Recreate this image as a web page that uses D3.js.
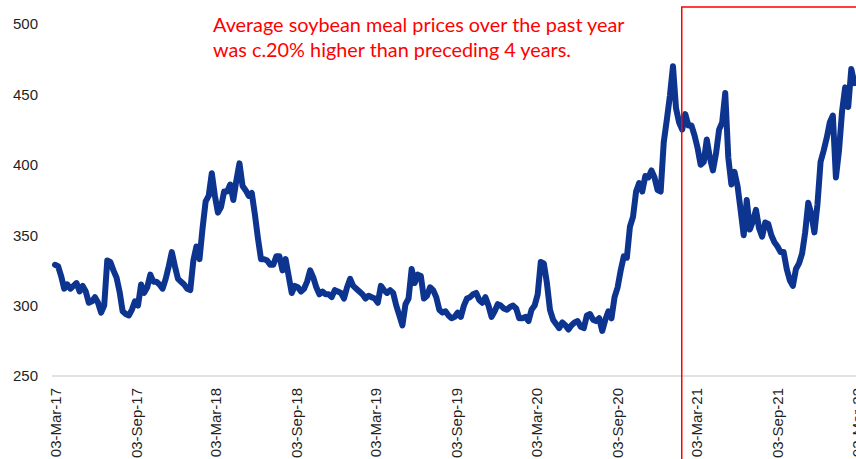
<!DOCTYPE html>
<html>
<head>
<meta charset="utf-8">
<script src="https://cdn.jsdelivr.net/npm/d3@7"></script>
<style>
  html, body { margin: 0; padding: 0; background: #ffffff; overflow: hidden; }
  svg { display: block; }
</style>
</head>
<body>
<svg id="chart" width="856" height="459"></svg>
<script>
// Weekly soybean meal prices, first observation 3 March 2017
const startDate = "2017-03-03";
const prices = [
  329, 328, 321, 312, 315, 312, 314, 316, 310, 314,
  310, 302, 303, 306, 302, 295, 300, 332, 331, 325,
  320, 310, 296, 294, 293, 297, 303, 300, 315, 309,
  313, 322, 317, 317, 315, 312, 319, 328, 338, 328,
  319, 317, 315, 312, 311, 332, 342, 333, 355, 374,
  378, 394, 378, 366, 370, 381, 381, 386, 375, 389,
  401, 385, 382, 378, 380, 365, 348, 333, 333, 332,
  329, 329, 335, 335, 325, 333, 321, 309, 314, 313,
  310, 312, 317, 325, 320, 313, 308, 310, 308, 308,
  306, 311, 310, 309, 305, 313, 319, 314, 312, 310,
  308, 305, 307, 306, 305, 302, 314, 311, 309, 311,
  309, 300, 293, 286, 301, 305, 326, 316, 322, 321,
  305, 307, 313, 311, 306, 297, 295, 296, 293, 291,
  292, 295, 292, 300, 305, 306, 308, 309, 304, 302,
  306, 300, 292, 296, 301, 300, 298, 297, 299, 300,
  298, 291, 291, 292, 289, 297, 300, 308, 331, 330,
  316, 297, 290, 287, 284, 288, 286, 283, 286, 288,
  289, 285, 284, 293, 294, 290, 289, 291, 282, 290,
  296, 291, 306, 313, 325, 335, 334, 356, 363, 381,
  387, 381, 392, 391, 396, 391, 382, 381, 416, 432,
  449, 470, 440, 430, 425, 436, 428, 428, 421, 412,
  400, 402, 418, 405, 396, 408, 425, 430, 451, 405,
  386, 395, 385, 368, 350, 375, 354, 360, 368, 355,
  349, 359, 358, 350, 345, 342, 338, 338, 326, 318,
  314, 326, 330, 337, 352, 373, 365, 352, 372, 402,
  410, 419, 430, 435, 391, 410, 438, 455, 441, 468,
  458
];

// Axis settings
const yTicks = [250, 300, 350, 400, 450, 500];
const xTickDates = [
  "2017-03-03", "2017-09-03", "2018-03-03", "2018-09-03", "2019-03-03", "2019-09-03",
  "2020-03-03", "2020-09-03", "2021-03-03", "2021-09-03", "2022-03-03"
];
const xDomain = ["2017-03-03", "2022-03-03"];
const yDomain = [250, 500];

// Highlighted "past year" window and its note
const highlightStart = "2021-01-28";
const noteLines = [
  "Average soybean meal prices over the past year",
  "was c.20% higher than preceding 4 years."
];

const parse = d3.timeParse("%Y-%m-%d");
const fmt = d3.timeFormat("%d-%b-%y");

const start = parse(startDate);
const series = prices.map((v, i) => ({ date: d3.timeDay.offset(start, i * 7), value: v }));

const svg = d3.select("#chart");

const x = d3.scaleTime()
  .domain(xDomain.map(parse))
  .range([55, 857]);

const y = d3.scaleLinear()
  .domain(yDomain)
  .range([376, 24]);

// Baseline at the bottom of the value range
svg.append("line")
  .attr("x1", 52).attr("x2", 856)
  .attr("y1", y(250)).attr("y2", y(250))
  .attr("stroke", "#d9d9d9")
  .attr("stroke-width", 1.5);

// Y axis labels
const yAxis = d3.axisLeft(y).tickValues(yTicks).tickSize(0).tickPadding(0);
const gy = svg.append("g")
  .attr("transform", "translate(38,0)")
  .call(yAxis);
gy.select(".domain").remove();
gy.selectAll("text")
  .attr("font-family", "'Liberation Sans', Arial, sans-serif")
  .attr("font-size", 15)
  .attr("fill", "#1f1f1f");

// X axis labels, rotated
const xAxis = d3.axisBottom(x)
  .tickValues(xTickDates.map(parse))
  .tickFormat(fmt)
  .tickSize(0);
const gx = svg.append("g")
  .attr("transform", `translate(0,${y(250)})`)
  .call(xAxis);
gx.select(".domain").remove();
gx.selectAll("text")
  .attr("font-family", "'Liberation Sans', Arial, sans-serif")
  .attr("font-size", 15)
  .attr("fill", "#1f1f1f")
  .attr("text-anchor", "end")
  .attr("transform", "rotate(-90)")
  .attr("x", -12)
  .attr("y", 0)
  .attr("dy", "0.35em");

// Price line
const line = d3.line()
  .x(d => x(d.date))
  .y(d => y(d.value));

svg.append("path")
  .datum(series)
  .attr("fill", "none")
  .attr("stroke", "#0d3590")
  .attr("stroke-width", 6)
  .attr("stroke-linejoin", "round")
  .attr("stroke-linecap", "round")
  .attr("d", line);

// Highlight box for the past year
svg.append("rect")
  .attr("x", x(parse(highlightStart)))
  .attr("y", 7)
  .attr("width", 400)
  .attr("height", 500)
  .attr("fill", "none")
  .attr("stroke", "#ff0000")
  .attr("stroke-width", 1.5);

// Note text
const note = svg.append("text")
  .attr("font-family", "Lato, 'Open Sans', sans-serif")
  .attr("font-size", 20)
  .attr("fill", "#ff0000");
note.selectAll("tspan")
  .data(noteLines)
  .join("tspan")
  .attr("x", 213)
  .attr("y", (d, i) => 31.5 + i * 25)
  .text(d => d);

// Fit the first line of the note to its intended width
const firstLen = note.select("tspan").node().getComputedTextLength();
note.attr("font-size", 20 * 412 / firstLen);
</script>
</body>
</html>
